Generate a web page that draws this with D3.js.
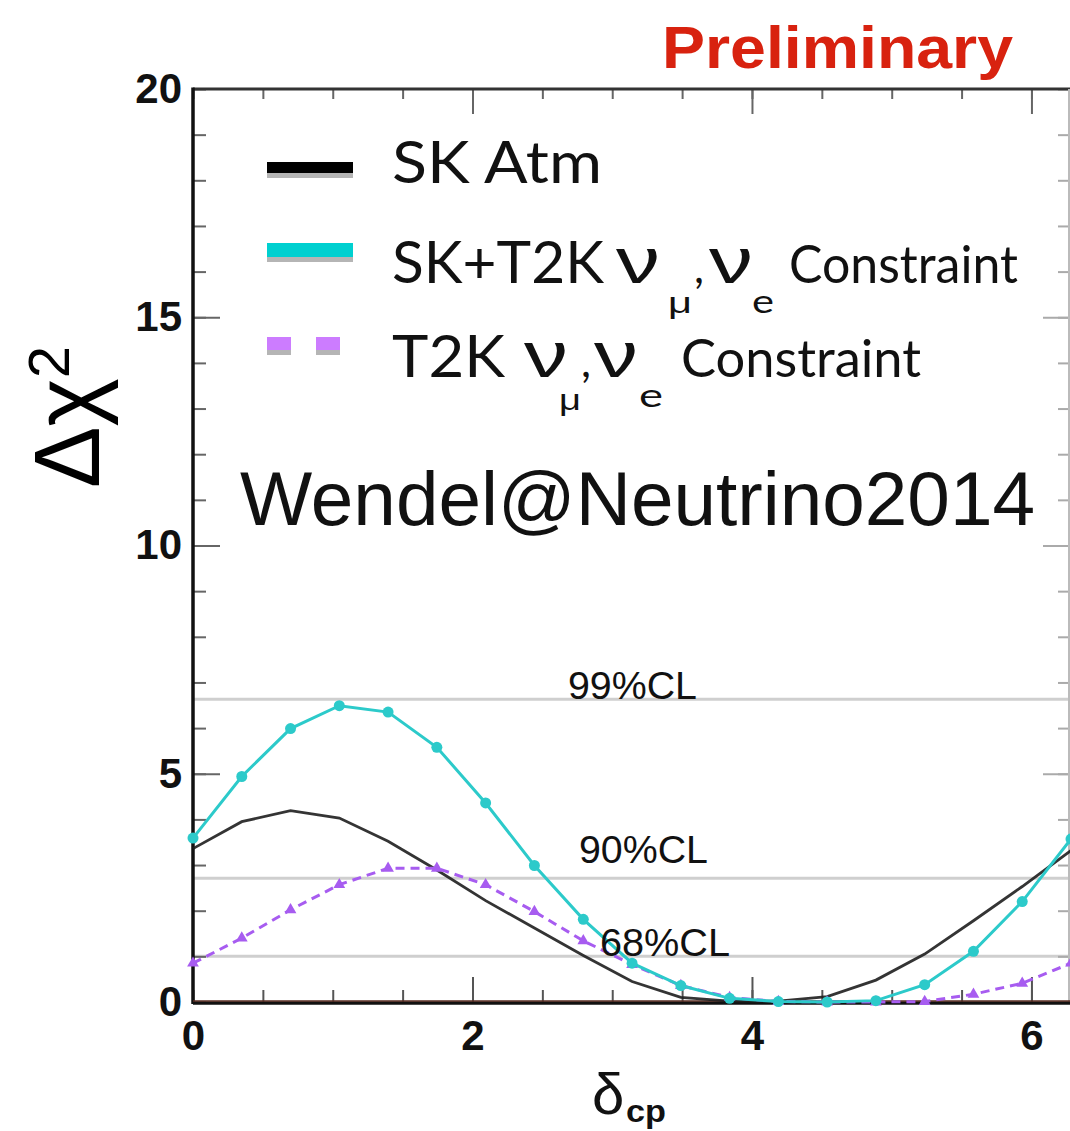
<!DOCTYPE html>
<html><head><meta charset="utf-8">
<script src="https://cdn.jsdelivr.net/npm/d3@7"></script>
<style>body{margin:0;background:#fff} svg{display:block}</style>
</head><body>
<svg id="chart" width="1070" height="1131"></svg>
<script>
// ---- data ----
const deltaCP = [0.000,0.349,0.698,1.047,1.396,1.745,2.094,2.443,2.793,3.142,3.491,3.840,4.189,4.538,4.887,5.236,5.585,5.934,6.283];
const skAtm   = [3.36,3.95,4.19,4.03,3.52,2.89,2.22,1.62,1.02,0.45,0.10,0.02,0.02,0.12,0.48,1.05,1.78,2.53,3.32];
const skT2K   = [3.59,4.94,5.99,6.49,6.35,5.58,4.36,2.99,1.81,0.85,0.36,0.08,0.01,0.00,0.03,0.38,1.11,2.20,3.57];
const t2kOnly = [0.85,1.40,2.02,2.57,2.93,2.93,2.57,1.98,1.34,0.82,0.36,0.10,0.01,0.00,0.00,0.01,0.17,0.41,0.85];
const clLevels = [1.00, 2.71, 6.63];
const clLabels = ["68%CL", "90%CL", "99%CL"];
const seriesNames = ["SK Atm", "SK+T2K ν_μ,ν_e Constraint", "T2K ν_μ,ν_e Constraint"];
const xTickLabels = [0, 2, 4, 6];
const yTickLabels = [0, 5, 10, 15, 20];
const xMinorTicks = [0,0.5,1,1.5,2,2.5,3,3.5,4,4.5,5,5.5,6];
const yMinorTicks = [0,1,2,3,4,5,6,7,8,9,10,11,12,13,14,15,16,17,18,19,20];

// ---- layout ----
const L = 193, R = 1071, T = 89, B = 1002;
const svg = d3.select("#chart");
const x = d3.scaleLinear().domain([0, 6.283]).range([L, R]);
const y = d3.scaleLinear().domain([0, 20]).range([B, T]);

// Title "Preliminary"
svg.append("text").attr("x", 662).attr("y", 68)
  .attr("font-family", "'Liberation Sans Narrow','Liberation Sans',Arial").attr("font-weight", "bold")
  .attr("font-size", 60).attr("fill", "#d8220f")
  .attr("textLength", 351).attr("lengthAdjust", "spacingAndGlyphs").text("Preliminary");

// CL lines
svg.append("g").selectAll("line").data(clLevels).join("line")
  .attr("x1", L).attr("x2", 1070).attr("y1", d => y(d)).attr("y2", d => y(d))
  .attr("stroke", "#cfcfcf").attr("stroke-width", 3);

// ticks (inward)
function tickAxis(axis, tx, ty, vals, size, color, w) {
  const g = svg.append("g").attr("transform", `translate(${tx},${ty})`)
    .call(axis.tickValues(vals).tickSize(size).tickFormat(""));
  g.select(".domain").remove();
  g.selectAll(".tick line").attr("stroke", color).attr("stroke-width", w);
}
const xMajor = [2, 4, 6];
const yMajor = [5, 10, 15];
tickAxis(d3.axisTop(x), 0, B, xMinorTicks, 12, "#555", 2);
tickAxis(d3.axisTop(x), 0, B, xMajor, 25, "#555", 2);
tickAxis(d3.axisBottom(x), 0, T, xMinorTicks, 10, "#666", 2);
tickAxis(d3.axisBottom(x), 0, T, xMajor, 25, "#666", 2);
tickAxis(d3.axisRight(y), L, 0, yMinorTicks, 13, "#666", 2);
tickAxis(d3.axisRight(y), L, 0, yMajor, 27, "#666", 2);
tickAxis(d3.axisLeft(y), 1069, 0, yMinorTicks, 11, "#aaa", 2);
tickAxis(d3.axisLeft(y), 1069, 0, yMajor, 26, "#aaa", 2);

// frame
svg.append("line").attr("x1", L).attr("x2", 1070).attr("y1", T).attr("y2", T).attr("stroke", "#333").attr("stroke-width", 3);
svg.append("line").attr("x1", 1069).attr("x2", 1069).attr("y1", T).attr("y2", B).attr("stroke", "#bbb").attr("stroke-width", 2);
svg.append("line").attr("x1", L).attr("x2", L).attr("y1", T - 1.5).attr("y2", B + 2).attr("stroke", "#111").attr("stroke-width", 3.5);
svg.append("line").attr("x1", L).attr("x2", 1070).attr("y1", B + 1).attr("y2", B + 1).attr("stroke", "#111").attr("stroke-width", 3.5);
svg.append("line").attr("x1", L).attr("x2", 1070).attr("y1", B - 1).attr("y2", B - 1).attr("stroke", "#5a2c22").attr("stroke-width", 1.5);

// tick labels
const lblFont = "'Liberation Sans',Arial";
const gx = svg.append("g").attr("transform", `translate(0,${B})`)
  .call(d3.axisBottom(x).tickValues(xTickLabels).tickSize(0).tickPadding(18).tickFormat(d3.format("d")));
gx.select(".domain").remove();
gx.selectAll("text").attr("font-family", lblFont).attr("font-weight", "bold").attr("font-size", 42).attr("fill", "#111");
const gy = svg.append("g").attr("transform", `translate(${L},0)`)
  .call(d3.axisLeft(y).tickValues(yTickLabels).tickSize(0).tickPadding(11).tickFormat(d3.format("d")));
gy.select(".domain").remove();
gy.selectAll("text").attr("font-family", lblFont).attr("font-weight", "bold").attr("font-size", 42).attr("fill", "#111");

// axis titles
const yt = svg.append("text").attr("transform", "translate(99,488) rotate(-90)")
  .attr("font-family", lblFont).attr("font-size", 92).attr("fill", "#000");
yt.append("tspan").text("Δχ");
yt.append("tspan").attr("font-size", 58).attr("dy", -30).text("2");
svg.append("text").attr("x", 592).attr("y", 1114).attr("font-family", lblFont).attr("font-size", 58).attr("fill", "#111").text("δ");
svg.append("text").attr("x", 626).attr("y", 1122).attr("font-family", lblFont).attr("font-weight", "bold")
  .attr("font-size", 32).attr("fill", "#111").attr("textLength", 40).attr("lengthAdjust", "spacingAndGlyphs").text("cp");

// curves
const pts = vals => deltaCP.map((d, i) => [d, vals[i]]);
const line = d3.line().x(d => x(d[0])).y(d => y(d[1]));
svg.append("path").attr("d", line(pts(skAtm))).attr("fill", "none")
  .attr("stroke", "#1e1e1e").attr("stroke-width", 2.8).attr("stroke-opacity", 0.9);
svg.append("path").attr("d", line(pts(t2kOnly))).attr("fill", "none")
  .attr("stroke", "#a75cf0").attr("stroke-width", 3).attr("stroke-dasharray", "9,6");
svg.append("g").selectAll("path").data(pts(t2kOnly)).join("path")
  .attr("d", d3.symbol(d3.symbolTriangle, 60)())
  .attr("transform", d => `translate(${x(d[0])},${y(d[1])})`).attr("fill", "#a75cf0");
svg.append("path").attr("d", line(pts(skT2K))).attr("fill", "none")
  .attr("stroke", "#2ccaca").attr("stroke-width", 3);
svg.append("g").selectAll("circle").data(pts(skT2K)).join("circle")
  .attr("cx", d => x(d[0])).attr("cy", d => y(d[1])).attr("r", 5.5).attr("fill", "#2ccaca");

// CL labels
const clPos = [[600, 956, 130], [579, 863, 129], [568, 699, 129]];
svg.append("g").selectAll("text").data(clLabels).join("text")
  .attr("x", (d, i) => clPos[i][0]).attr("y", (d, i) => clPos[i][1])
  .attr("textLength", (d, i) => clPos[i][2]).attr("lengthAdjust", "spacingAndGlyphs")
  .attr("font-family", lblFont).attr("font-size", 39).attr("fill", "#111").text(d => d);

// watermark text
svg.append("text").attr("x", 240).attr("y", 525).attr("font-family", lblFont).attr("font-size", 76)
  .attr("fill", "#111").attr("textLength", 795).attr("lengthAdjust", "spacingAndGlyphs").text("Wendel@Neutrino2014");

// legend symbols
const lg = svg.append("g");
lg.append("rect").attr("x", 267).attr("y", 167).attr("width", 86).attr("height", 11).attr("fill", "#b5b5b5");
lg.append("rect").attr("x", 267).attr("y", 162).attr("width", 86).attr("height", 11).attr("fill", "#000");
lg.append("rect").attr("x", 267).attr("y", 248).attr("width", 86).attr("height", 14).attr("fill", "#b5b5b5");
lg.append("rect").attr("x", 267).attr("y", 243).attr("width", 86).attr("height", 14).attr("fill", "#00d0d0");
[267, 316].forEach(sx => {
  lg.append("rect").attr("x", sx).attr("y", 342).attr("width", 24).attr("height", 13).attr("fill", "#b5b5b5");
  lg.append("rect").attr("x", sx).attr("y", 337).attr("width", 24).attr("height", 13).attr("fill", "#cc7cff");
});

// legend texts (built from seriesNames)
const lf = "Lato,'Noto Sans',sans-serif";
const gf = "'Liberation Sans','DejaVu Sans',sans-serif";
function piece(tx, ty, str, size, len, fam) {
  const t = lg.append("text").attr("x", tx).attr("y", ty).attr("font-family", fam || lf)
    .attr("font-size", size).attr("fill", "#111").text(str);
  if (len) t.attr("textLength", len).attr("lengthAdjust", "spacingAndGlyphs");
}
function legendRow(name, base, xs) {
  const m = name.match(/^(.*) ν_(.)\,ν_(.) (.*)$/);
  if (!m) { piece(392, base, name, 58, 210); return; }
  piece(392, base, m[1], 58, xs[0]);
  piece(xs[1], base, "ν", 64, xs[2], gf);
  piece(xs[3], base + xs[4], m[2], 30, xs[5], gf);
  piece(xs[6], base, ",", 44, null);
  piece(xs[7], base, "ν", 64, xs[8], gf);
  piece(xs[9], base + xs[10], m[3], 32, xs[11], lf);
  piece(xs[12], base, m[4], 52, xs[13]);
}
legendRow(seriesNames[0], 183, null);
legendRow(seriesNames[1], 283, [212, 616, 44, 668, 30, 24, 694, 709, 44, 752, 30, 22, 789, 229]);
legendRow(seriesNames[2], 377, [113, 524, 44, 559, 33, 22, 581, 594, 44, 639, 30, 24, 681, 240]);
</script>
</body></html>
